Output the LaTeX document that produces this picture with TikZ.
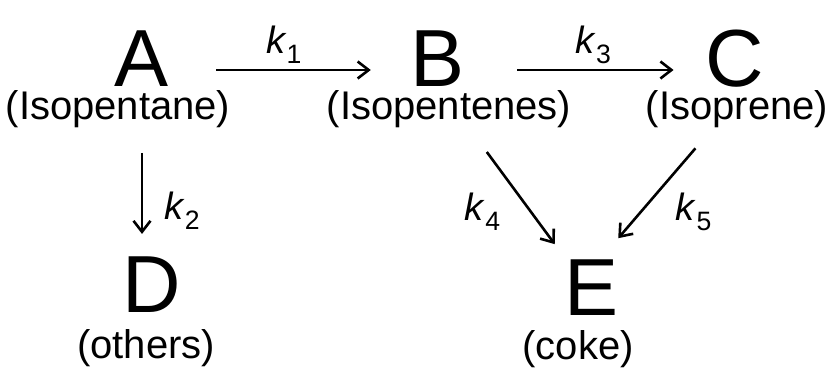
\documentclass[tikz,border=0pt]{standalone}
\usepackage{fontspec}
\setmainfont{Liberation Sans}
\usetikzlibrary{arrows.meta,calc,positioning}
\newcommand{\rc}[1]{\textit{k}\textsubscript{#1}}

\begin{document}
\begin{tikzpicture}[x=1pt,y=1pt,>={Straight Barb[length=11pt,width=17pt]},
    cmpd/.style={inner sep=0pt,font=\fontsize{81}{81}\selectfont},
    cmpdname/.style={inner sep=0pt,font=\fontsize{40}{40}\selectfont},
    rxn/.style={->,line width=2.6pt},
    kk/.style={inner sep=1pt,font=\fontsize{38}{38}\selectfont}]
  \useasboundingbox (0,0) rectangle (835,376);
  % species
  \node[cmpd] (A) at (142,317) {A};
  \node[cmpd] (B) at (438,317) {B};
  \node[cmpd] (C) at (735,317) {C};
  \node[cmpd] (D) at (152,91) {D};
  \node[cmpd] (E) at (592,88.5) {E};
  \node[cmpdname] (Alab) at (118,267) {(Isopentane)};
  \node[cmpdname] (Blab) at (449,267) {(Isopentenes)};
  \node[cmpdname] (Clab) at (737,267) {(Isoprene)};
  \node[cmpdname] (Dlab) at (146,27.5) {(others)};
  \node[cmpdname] (Elab) at (578,27) {(coke)};
  % reactions
  \draw[rxn,shorten <=47pt,shorten >=40pt] ([yshift=-11pt]A.east) -- ([yshift=-11pt]B.west)
    node[kk,midway,above=4pt,xshift=-6pt] {\rc{1}};
  \draw[rxn,shorten <=52pt,shorten >=32pt] ([yshift=-11pt]B.east) -- ([yshift=-11pt]C.west)
    node[kk,midway,above=4pt,xshift=8pt] {\rc{3}};
  \draw[rxn,shorten <=25pt,shorten >=23pt] (Alab.south -| A) -- (D.north -| A)
    node[kk,pos=0.64,right=20pt] {\rc{2}};
  \draw[rxn,shorten <=30pt,shorten >=19pt] ([xshift=20pt]Blab.south) -- ([xshift=-26pt]E.north)
    node[kk,pos=0.64,left=28pt] {\rc{4}};
  \draw[rxn,shorten <=27pt,shorten >=28pt] ([xshift=-24pt]Clab.south) -- ([xshift=8pt]E.north)
    node[kk,pos=0.64,right=33pt] {\rc{5}};
\end{tikzpicture}
\end{document}
